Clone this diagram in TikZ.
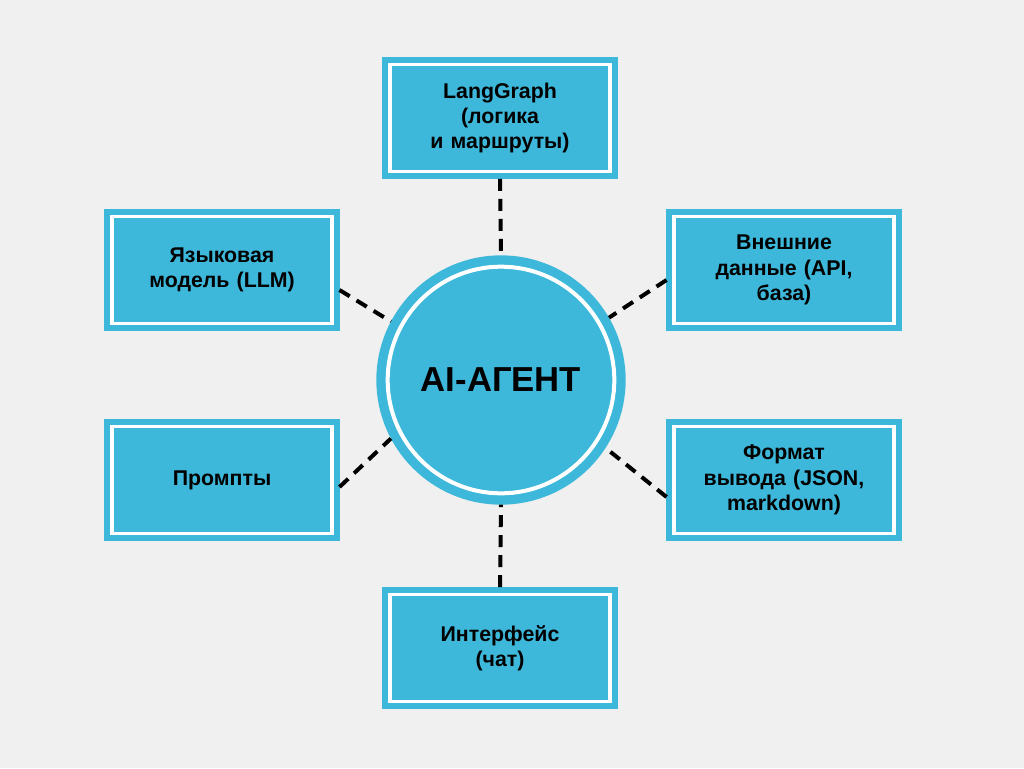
\documentclass[tikz,border=0pt]{standalone}
\usepackage{fontspec}
\setmainfont{Liberation Sans}
\usetikzlibrary{calc}
\definecolor{cy}{HTML}{3DB8DA}
\definecolor{bg}{HTML}{F0F0F0}
\tikzset{
 box/.style={fill=cy, draw=cy, double=white, line width=4.5pt, double distance=2.3pt,
   minimum width=165pt, minimum height=80pt, outer sep=5.6pt, align=center,
   font=\bfseries\fontsize{16pt}{19pt}\selectfont, text width=150pt},
 hub/.style={circle, fill=cy, draw=cy, double=white, line width=7pt, double distance=3pt,
   minimum size=170pt, outer sep=8.5pt, font=\bfseries\fontsize{26pt}{30pt}\selectfont},
 conn/.style={draw=black, line width=3pt, dash pattern=on 9pt off 6pt}
}
\begin{document}
\begin{tikzpicture}[x=0.75pt,y=-0.75pt]
\fill[bg] (0,0) rectangle (1024,768);
\useasboundingbox (0,0) rectangle (1024,768);
\node[hub] (c) at (501,380) {AI-АГЕНТ};
\node[box] (t) at (500,118) {LangGraph\\(логика\\и маршруты)};
\node[box] (lt) at (222,270) {Языковая\\модель (LLM)};
\node[box] (rt) at (784,270) {Внешние\\данные (API,\\база)};
\node[box] (lb) at (222,480) {Промпты};
\node[box] (rb) at (784,480) {Формат\\вывода (JSON,\\markdown)};
\node[box] (b) at (500,648) {Интерфейс\\(чат)};
\draw[conn] (t.south) -- (c.north);
\draw[conn] (b.north) -- (c.south);
\draw[conn] ($(lt.east)+(0,20)$) -- (c.152);
\draw[conn] ($(lb.east)+(0,7)$) -- (c.208);
\draw[conn] ($(rt.west)+(0,10)$) -- (c.30);
\draw[conn] ($(rb.west)+(0,17)$) -- (c.-33);
\end{tikzpicture}
\end{document}
